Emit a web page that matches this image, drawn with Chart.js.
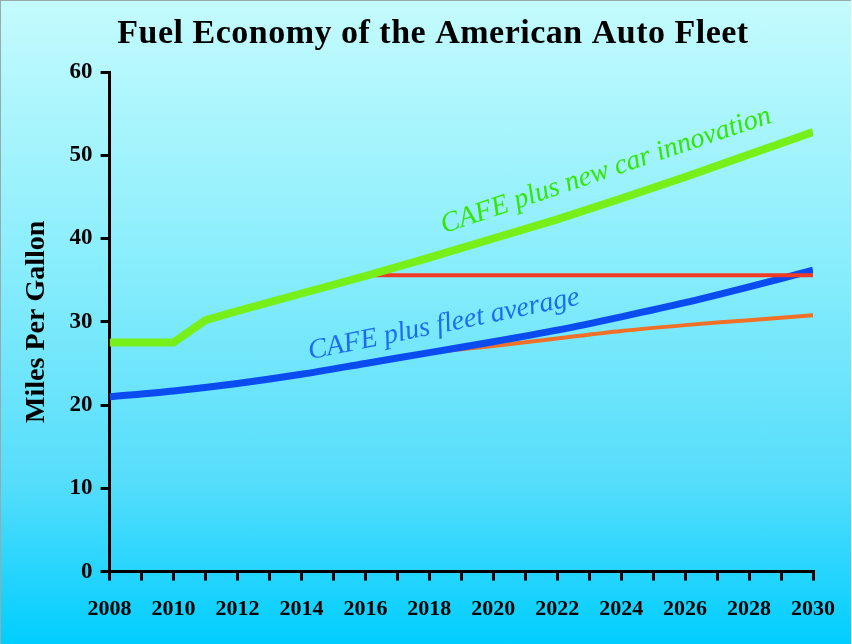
<!doctype html>
<html lang="en">
<head>
<meta charset="utf-8">
<title>Fuel Economy of the American Auto Fleet</title>
<style>
    * { margin: 0; padding: 0; }
    body { width: 852px; height: 644px; overflow: hidden; }
    .chartBox {
        width: 850px;
        height: 643px;
        border-top: 1px solid #9aa;
        border-left: 1px solid #9aa;
        background: linear-gradient(to bottom, #c4fbfd 0%, #8aeefc 40%, #55ddfb 75%, #00ceff 100%);
    }
</style>
</head>
<body>
<div class="chartBox">
    <canvas id="myChart" width="850" height="643"></canvas>
</div>

<script src="https://cdn.jsdelivr.net/npm/chart.js"></script>
<script>
    const years = [2008, 2010, 2011, 2012, 2014, 2016, 2018, 2020, 2022, 2024, 2026, 2028, 2030]
    const innovation = [27.5, 27.5, 30.2, 31.3, 33.4, 35.5, 37.7, 40.0, 42.3, 44.8, 47.4, 50.1, 52.8]

    const fleetYears = [2008, 2010, 2012, 2014, 2016, 2018, 2020, 2022, 2024, 2026, 2028, 2030]
    const fleetAverage = [21.0, 21.7, 22.6, 23.7, 25.0, 26.3, 27.6, 29.0, 30.6, 32.3, 34.2, 36.2]

    const cafeYears = [2016, 2030]
    const cafeFlat = [35.6, 35.6]

    const baseYears = [2018, 2020, 2022, 2024, 2026, 2028, 2030]
    const baseline = [26.3, 27.1, 28.0, 28.9, 29.6, 30.2, 30.8]

    const yTicks = [0, 10, 20, 30, 40, 50, 60]

    const chartTitle = 'Fuel Economy of the American Auto Fleet'

    const toPoints = (xs, ys) => xs.map((x, i) => ({ x: x, y: ys[i] }))

    const serif = "'Liberation Serif', 'DejaVu Serif', serif"

    // title and the labels along the curves
    const textLayer = {
        id: 'textLayer',
        afterDatasetsDraw(chart) {
            const { ctx, scales: { x, y } } = chart
            ctx.save()
            ctx.font = 'bold 34px ' + serif
            ctx.letterSpacing = '0.5px'
            ctx.fillStyle = '#000'
            ctx.textAlign = 'center'
            ctx.textBaseline = 'alphabetic'
            ctx.fillText(chartTitle, 432, 42)
            ctx.restore()

            const put = (text, xv, yv, angle, color) => {
                ctx.save()
                ctx.translate(x.getPixelForValue(xv), y.getPixelForValue(yv))
                ctx.rotate(angle * Math.PI / 180)
                ctx.font = 'italic 28px ' + serif
                ctx.fillStyle = color
                ctx.textAlign = 'center'
                ctx.textBaseline = 'alphabetic'
                ctx.fillText(text, 0, 0)
                ctx.restore()
            }
            put('CAFE plus new car innovation', 2023.6, 47.3, -18.7, '#33e800')
            put('CAFE plus fleet average', 2018.5, 28.8, -11.5, '#1a6cf0')
        }
    }

    const data = {
        datasets: [
            {
                label: 'CAFE plus new car innovation',
                data: toPoints(years, innovation),
                borderColor: '#77f01a',
                borderWidth: 8,
                tension: 0,
                order: 1
            },
            {
                label: 'CAFE',
                data: toPoints(cafeYears, cafeFlat),
                borderColor: '#f03a24',
                borderWidth: 4,
                order: 2
            },
            {
                label: 'CAFE plus fleet average',
                data: toPoints(fleetYears, fleetAverage),
                borderColor: '#0a4cf0',
                borderWidth: 7,
                order: 3
            },
            {
                label: 'Baseline',
                data: toPoints(baseYears, baseline),
                borderColor: '#f07028',
                borderWidth: 4,
                order: 4
            }
        ]
    }

    const config = {
        type: 'line',
        data: data,
        options: {
            responsive: false,
            animation: false,
            layout: { padding: { left: 15, right: 20, top: 71, bottom: 5 } },
            elements: {
                point: { radius: 0 },
                line: { tension: 0.3, borderCapStyle: 'butt', borderJoinStyle: 'miter' }
            },
            plugins: {
                legend: { display: false },
                tooltip: { enabled: false },
                title: { display: false }
            },
            scales: {
                x: {
                    type: 'linear',
                    min: 2008,
                    max: 2030,
                    border: { color: '#000', width: 3 },
                    grid: { drawOnChartArea: false, color: '#000', lineWidth: 3, tickLength: 9 },
                    ticks: {
                        stepSize: 1,
                        autoSkip: false,
                        maxRotation: 0,
                        color: '#000',
                        padding: 16,
                        font: { family: serif, size: 22, weight: 'bold' },
                        callback: v => (v % 2 === 0 ? String(v) : '')
                    }
                },
                y: {
                    min: 0,
                    max: 60,
                    border: { color: '#000', width: 3 },
                    grid: { drawOnChartArea: false, color: '#000', lineWidth: 3, tickLength: 9 },
                    afterBuildTicks: axis => { axis.ticks = yTicks.map(v => ({ value: v })) },
                    ticks: {
                        color: '#000',
                        padding: 8,
                        font: { family: serif, size: 23, weight: 'bold' }
                    },
                    title: {
                        display: true,
                        text: 'Miles Per Gallon',
                        color: '#000',
                        font: { family: serif, size: 28, weight: 'bold' },
                        padding: { bottom: 8 }
                    }
                }
            }
        },
        plugins: [textLayer]
    }

    const myChart = new Chart(document.getElementById('myChart'), config)
</script>
</body>
</html>
